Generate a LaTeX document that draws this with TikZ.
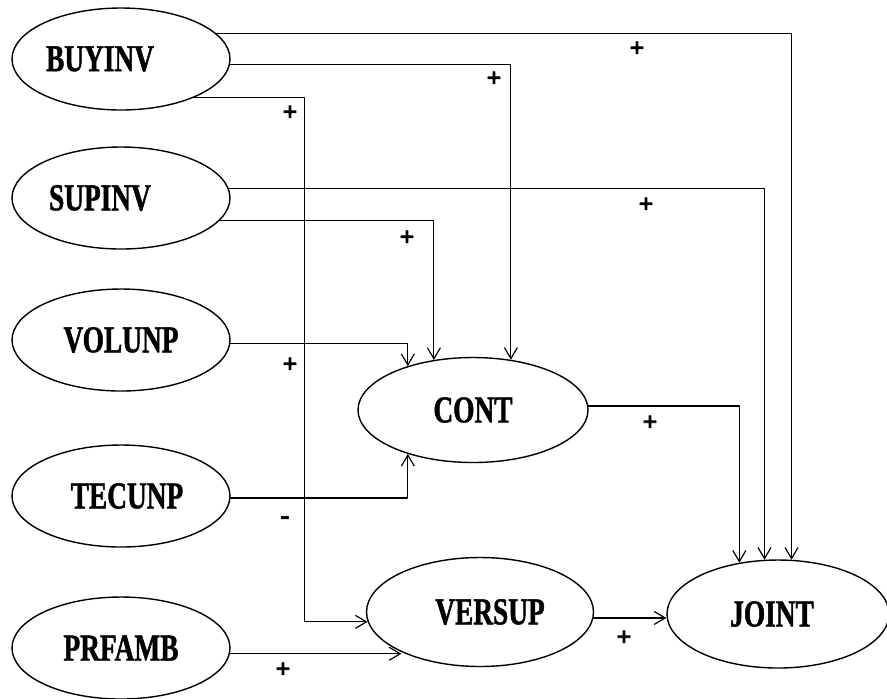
\documentclass[tikz,border=0pt]{standalone}
\usepackage{fontspec}
\newfontfamily\labfont{Liberation Serif}[FakeStretch=0.72,FakeBold=1.2]
\newfontfamily\signfont{Liberation Serif}[FakeBold=3]
\usetikzlibrary{arrows.meta,shapes.geometric}

\begin{document}
\begin{tikzpicture}[x=0.5pt,y=-0.5pt,>={Straight Barb[length=5.5pt,width=6.5pt]},line cap=round,line join=round,
  var/.style={draw,ellipse,line width=0.7pt,inner sep=0pt,minimum width=109pt,minimum height=51pt,
    font=\labfont\bfseries\fontsize{19}{21}\selectfont},
  sign/.style={inner sep=0pt,font=\signfont\bfseries\fontsize{13}{13}\selectfont},
  link/.style={->,line width=0.6pt}]
  \useasboundingbox (0,0) rectangle (887,698);

  % exogenous variables
  \node[var] (buyinv) at (121,59) {BUYINV\kern21pt};
  \node[var] (supinv) at (121,198) {SUPINV\kern21pt};
  \node[var] (volunp) at (121,340) {VOLUNP};
  \node[var] (tecunp) at (121,496) {\kern6pt TECUNP};
  \node[var] (prfamb) at (121,648) {PRFAMB};

  % endogenous variables
  \node[var,minimum width=115pt,minimum height=52.5pt] (cont) at (473,410) {CONT};
  \node[var,minimum width=113.5pt,minimum height=54.5pt] (versup) at (480,612) {\kern10pt VERSUP};
  \node[var,minimum width=111pt,minimum height=54pt] (joint) at (778,614) {JOINT\kern6pt};

  % paths
  \draw[link] (buyinv.15) -| (joint.76);
  \draw[link] (buyinv.-3) -| (cont.53);
  \draw[link] (buyinv.-28) -- ++(111,0) |- (versup.185);
  \draw[link] (supinv.5) -| (joint.104);
  \draw[link] (supinv.-13) -| (cont.128);
  \draw[link] (volunp.-2) -| (cont.146);
  \draw[link] (tecunp.-1) -| (cont.214);
  \draw[link] (prfamb.-3) -- (prfamb.-3 -| versup.207);
  \draw[link] (cont.2) -| (joint.127);
  \draw[link] (versup.-3) -- (versup.-3 -| joint.west);

  % signs
  \node[sign] (s1) at (637,49) {+};
  \node[sign] (s2) at (494,79) {+};
  \node[sign] (s3) at (290,113) {+};
  \node[sign] (s4) at (646,205) {+};
  \node[sign] (s5) at (407,238) {+};
  \node[sign] (s6) at (290,365) {+};
  \node[sign] (s7) at (285,520) {-};
  \node[sign] (s8) at (283,670) {+};
  \node[sign] (s9) at (650,423) {+};
  \node[sign] (s10) at (624,638) {+};
\end{tikzpicture}
\end{document}
